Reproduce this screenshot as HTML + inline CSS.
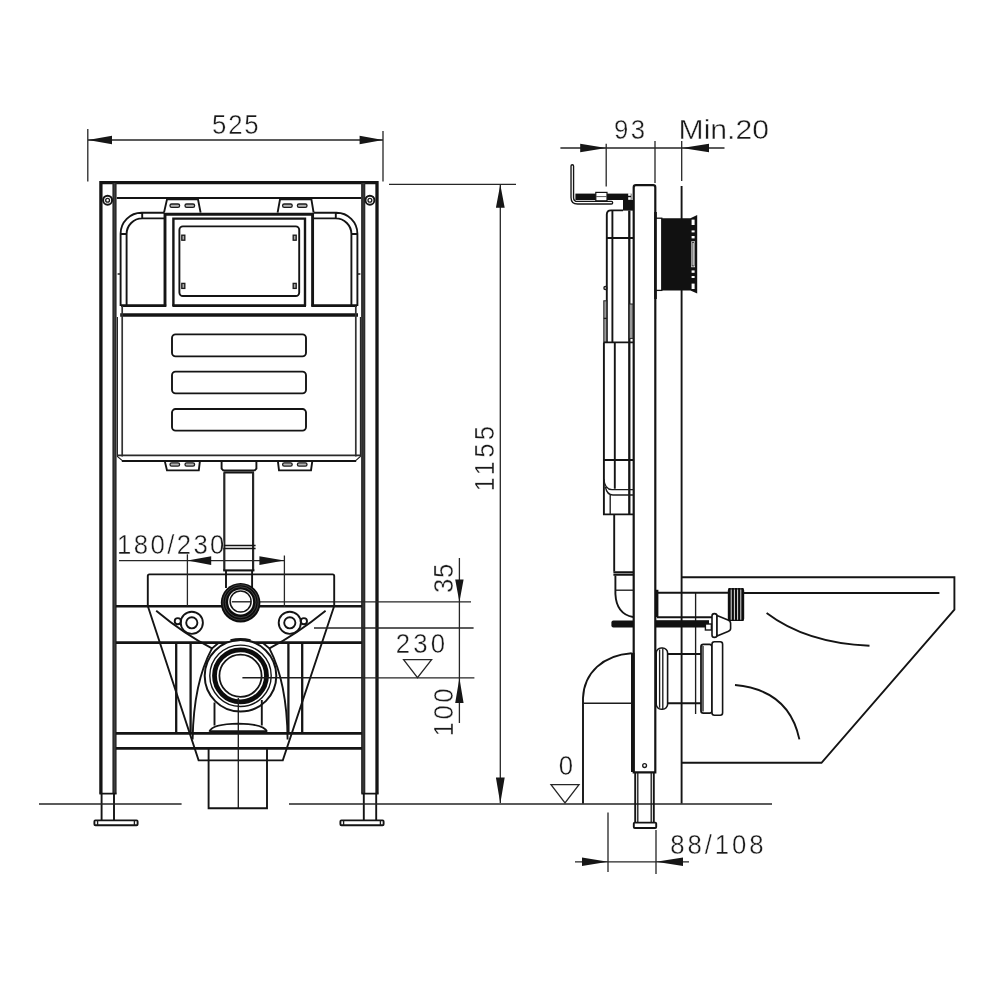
<!DOCTYPE html>
<html lang="en">
<head>
<meta charset="utf-8">
<title>Concealed cistern frame – dimensions</title>
<style>
html,body{margin:0;padding:0;background:#fff;}
body{width:1000px;height:1000px;overflow:hidden;font-family:"Liberation Sans",sans-serif;}
svg{display:block;will-change:transform}
.k{fill:none;stroke:#141414;stroke-width:2.5}
.m{fill:none;stroke:#141414;stroke-width:1.9}
.t{fill:none;stroke:#1c1c1c;stroke-width:1.35}
.d{fill:none;stroke:#262626;stroke-width:1.3}
.w{fill:#fff;stroke:#141414;stroke-width:1.6}
.b{fill:#111;stroke:none}
.a{fill:#161616;stroke:none}
text{font-family:"Liberation Sans",sans-serif;font-size:28px;fill:#1a1a1a;stroke:#fff;stroke-width:.4px}
</style>
</head>
<body>
<svg width="1000" height="1000" viewBox="0 0 1000 1000">
<rect width="1000" height="1000" fill="#fff"/>

<!-- ================= FRONT VIEW ================= -->
<g id="front">
<!-- frame -->
<path class="k" style="stroke-width:3.3" d="M100.9,793.6 V182.6 H377 V793.6"/>
<path d="M114.5,183 V793.6 M363.2,183 V793.6" fill="none" stroke="#2a2a2a" stroke-width="4.2"/>
<path d="M114.5,183 V793.6 M363.2,183 V793.6" fill="none" stroke="#484848" stroke-width=".7"/>
<path class="m" d="M116.8,198 H361.2"/>
<circle class="m" cx="107.6" cy="200.2" r="4.5" style="stroke-width:2"/><circle class="t" cx="107.6" cy="200.2" r="1.9"/>
<circle class="m" cx="369.9" cy="200.2" r="4.5" style="stroke-width:2"/><circle class="t" cx="369.9" cy="200.2" r="1.9"/>
<!-- top tabs -->
<path class="m" d="M164,212.6 L167,199.4 H198 L200.6,212.6"/>
<path class="m" d="M277.6,212.6 L280,199.4 H311.4 L313.6,212.6"/>
<g class="t" style="stroke-width:1.3;fill:#b5b5b5"><rect x="170" y="204" width="9.6" height="3.3" rx="1.6"/><rect x="185" y="204" width="9.6" height="3.3" rx="1.6"/>
<rect x="282.6" y="204" width="9.6" height="3.3" rx="1.6"/><rect x="297.4" y="204" width="9.6" height="3.3" rx="1.6"/></g>
<!-- bent pipes -->
<path class="m" d="M120.6,306 V233.8 A21,21 0 0 1 141.6,212.8 H164 M126.6,306 V234 A15.6,15.6 0 0 1 142.2,218.4 H164 M142.2,212.8 V218.4 M120.6,234 H126.6"/>
<path class="m" d="M357.4,306 V233.8 A21,21 0 0 0 336.4,212.8 H314 M351.4,306 V234 A15.6,15.6 0 0 0 335.8,218.4 H314 M335.8,212.8 V218.4 M357.4,234 H351.4"/>
<path class="t" d="M117.6,274 H120.6 M360.4,274 H357.4"/>
<!-- central box -->
<path class="k" style="stroke-width:2.9" d="M165,306.6 V214.2 H312.6 V306.6"/>
<path class="m" style="stroke-width:2.4" d="M173.4,306 V218.6 H305 V306"/>
<rect class="m" x="179.4" y="226.4" width="119.8" height="69.6" rx="3.5"/>
<g class="t" style="fill:#aaa"><rect x="181.8" y="235.2" width="3" height="5"/><rect x="181.8" y="283.4" width="3" height="5"/><rect x="293.2" y="235.2" width="3" height="5"/><rect x="293.2" y="283.4" width="3" height="5"/></g>
<path class="k" style="stroke-width:2.7" d="M121,305.6 H166.2 M172.4,305.6 H306 M311.4,305.6 H357"/>
<!-- tank -->
<path class="k" style="stroke-width:3.6" d="M120.2,315 H358"/>
<path class="m" style="stroke:#333;stroke-width:1.7" d="M122.2,306 V456.6 M355.8,306 V456.6"/><path class="t" style="stroke-width:1.1" d="M117.4,317 V456.4 L122,460.4 M360.4,317 V456.4 L356,460.4"/>
<path class="m" style="stroke:#2a2a2a;stroke-width:1.7" d="M118,455.4 H360"/>
<path class="m" style="stroke-width:2.1" d="M121.8,461 H356.2"/>
<g class="m"><rect x="172" y="334.4" width="134" height="22" rx="3.6"/><rect x="172" y="371.6" width="134" height="21.8" rx="3.6"/><rect x="172" y="409" width="134" height="21.6" rx="3.6"/></g>
<!-- bottom tabs -->
<path class="m" d="M164.6,460.4 L167,470.4 H198.8 L200,460.4 M277.8,460.4 L279,470.4 H311 L312.4,460.4"/>
<g class="t" style="stroke-width:1.3;fill:#b5b5b5"><rect x="170" y="462.8" width="9.6" height="3.3" rx="1.6"/><rect x="185" y="462.8" width="9.6" height="3.3" rx="1.6"/>
<rect x="282.6" y="462.8" width="9.6" height="3.3" rx="1.6"/><rect x="297.4" y="462.8" width="9.6" height="3.3" rx="1.6"/></g>
<!-- flush pipe -->
<path class="m" d="M221.6,460.4 V468.6 L223.2,470.4 H254.8 L256.4,468.6 V460.4 M223.6,472.5 H254"/>
<path class="m" style="stroke:#262626;stroke-width:2.2" d="M224.3,472.4 V570.4 M253.1,472.4 V570.4"/>
<path class="m" style="stroke-width:1.7" d="M222.4,545.5 H255.6 M222.4,548.5 H255.6"/>
<path class="m" style="stroke-width:2.1" d="M223.2,570.4 H254.4"/>
<path class="m" d="M226,570.4 V588 M252.1,570.4 V588"/>
<!-- bowl outline behind -->
<path class="m" d="M147.8,606 V576 Q147.8,574.4 149.4,574.4 H332.6 Q334.2,574.4 334.2,576 V606"/>
<path class="m" d="M147.8,606 L198.6,760.4 H282.8 L334.2,606"/>
<!-- crossbars -->
<path class="k" style="stroke-width:2.6" d="M116,606.2 H362 M116,642.6 H362 M116,733.4 H362 M116,748.4 H362"/>
<!-- flush inlet -->
<path class="t" d="M232,601.8 H362"/>
<circle cx="240.6" cy="602.8" r="19.8" fill="#0c0c0c"/>
<circle cx="240.6" cy="602.4" r="17.6" fill="none" stroke="#777" stroke-width=".5"/>
<circle cx="240.6" cy="602.2" r="15.4" fill="none" stroke="#777" stroke-width=".5"/>
<circle cx="240.6" cy="601.9" r="12.5" fill="#fff"/>
<circle class="m" cx="240.6" cy="601.5" r="10.5" style="stroke-width:1.5"/>
<path class="t" d="M231.8,601.8 H251"/>
<!-- bolts -->
<circle class="m" cx="191.8" cy="622.8" r="11.1"/><circle class="m" cx="191.8" cy="622.8" r="5.6"/><circle class="m" cx="177.8" cy="621.2" r="3.1" fill="#fff"/>
<circle class="m" cx="289.8" cy="622.8" r="11.1"/><circle class="m" cx="289.8" cy="622.8" r="5.6"/><circle class="m" cx="303.9" cy="621.2" r="3.1" fill="#fff"/>
<!-- inner diagonals and trap outline -->
<path class="m" d="M156.2,610.8 Q184,634 212,648.4 L218.4,643 M325.6,610.8 Q297,634 269.4,648.4 L263,643"/>
<path class="m" d="M212,648.4 C203,665 193.4,694 192.6,739.4 M269.4,648.4 C278,665 287.2,694 287.6,739.4"/>
<path class="k" style="stroke-width:2.3" d="M176.2,642.6 V733.4 M190.6,642.6 V733.4 M288.4,642.6 V733.4 M302.2,642.6 V733.4"/>
<!-- waste outlet -->
<circle cx="240.5" cy="675.8" r="35.8" fill="#fff" stroke="#141414" stroke-width="2"/>
<circle class="m" cx="240.5" cy="675.8" r="30.7" style="stroke-width:1.4"/>
<circle cx="240.5" cy="675.8" r="26" fill="none" stroke="#0c0c0c" stroke-width="4.8"/>
<circle class="m" cx="240.5" cy="675.8" r="21.1" style="stroke-width:1.8"/>
<path class="k" style="stroke-width:3" d="M230.6,640.6 Q240.5,638.2 250.4,640.6"/>
<path class="m" d="M214.5,702.6 V725.4 M261.8,700 V725.4"/>
<path class="m" d="M209.4,731.6 Q212,724 238.4,723.6 Q264,724 267,731.6"/>
<path class="k" d="M209.4,731.4 H267"/>
<path class="t" d="M238.3,698 V808"/>
<path class="t" d="M242.4,677.7 H362"/>
<!-- drain box -->
<path class="m" d="M208.6,748.4 V808.2 H267 V748.4"/>
<!-- legs / feet -->
<path class="m" d="M99.4,793.6 H116.6 M361.4,793.6 H378.6"/>
<path class="m" d="M101.6,793.6 V820.4 M114,793.6 V820.4 M363.8,793.6 V820.4 M376.2,793.6 V820.4"/>
<rect class="m" x="94.4" y="820.4" width="43.2" height="4.8" rx="1"/>
<rect class="m" x="340.4" y="820.4" width="43.2" height="4.8" rx="1"/>
<path class="t" d="M97.6,820.4 V825.2 M134.4,820.4 V825.2 M343.6,820.4 V825.2 M380.4,820.4 V825.2"/>


</g>

<!-- ================= DIMENSIONS (front) ================= -->
<g id="dims-front">
<!-- floor line -->
<path class="d" style="stroke-width:1.4" d="M39,804 H181.6 M289,804 H772"/>
<!-- 525 -->
<path class="d" d="M87.8,129 V181.4 M383,131 V181.4 M88,140 H383"/>
<path class="a" d="M88,140 L112,135.8 V144.2 Z M383,140 L359.6,135.8 V144.2 Z"/>
<text transform="translate(212,134.4) scale(0.92,1)" textLength="50.7" lengthAdjust="spacing">525</text>
<!-- 1155 -->
<path class="d" d="M389,184.4 H516 M500.3,184.4 V803"/>
<path class="a" d="M500.3,184.4 L495.9,207.8 H504.7 Z M500.3,803.4 L495.9,777.4 H504.7 Z"/>
<text transform="translate(494,491.4) rotate(-90) scale(0.92,1)" textLength="71.3" lengthAdjust="spacing">1155</text>
<!-- 35 / 100 -->
<path class="d" d="M362,601.8 H471 M314,628 H473.6 M362,677.8 H474.4 M459.4,558 V723"/>
<path class="a" d="M459.4,602 L455.2,579.6 H463.6 Z M459.4,678 L455.2,703 H463.6 Z"/>
<text transform="translate(453,593) rotate(-90) scale(0.92,1)" textLength="32.0" lengthAdjust="spacing">35</text>
<text transform="translate(453,736.4) rotate(-90) scale(0.92,1)" textLength="52.2" lengthAdjust="spacing">100</text>
<!-- 230 level -->
<text transform="translate(395.8,653) scale(0.92,1)" textLength="53.7" lengthAdjust="spacing">230</text>
<path class="d" d="M403.6,659.6 H431.6 L417.5,677.6 Z"/>
<!-- 180/230 -->
<path class="d" d="M119,560.6 H284 M187.4,554 V606 M284.4,555.6 V607"/>
<path class="a" d="M187.4,560.6 L211.2,556.2 V565 Z M284.2,560.6 L259.4,556.2 V565 Z"/>
<text transform="translate(117,553.6) scale(0.92,1)" textLength="116.8" lengthAdjust="spacing">180/230</text>

</g>

<!-- ================= SIDE VIEW ================= -->
<g id="side">
<!-- wall line -->
<path class="m" d="M681.6,186 V803.6"/>
<!-- bowl -->
<path class="m" d="M681.6,577.2 H954.4 V609.6 L821.5,762.8 H681.6"/>
<path class="m" d="M743.4,593 H939.4"/>
<path class="m" d="M766.6,613 Q806,643 869.5,645.8"/>
<path class="m" d="M735,685 Q789,690 799.4,739.4"/>
<!-- frame profile -->
<path class="k" style="stroke-width:2.2" d="M633.7,772.4 V187.4 Q633.7,185.2 635.9,185.2 H653.1 Q655.3,185.2 655.3,187.4 V772.4 Z"/>
<path class="k" style="stroke-width:3.6" d="M632.8,652.8 V772"/>
<circle class="t" cx="644.6" cy="765.6" r="1.9"/>
<!-- foot -->
<path class="m" d="M635.2,773 V822.4 M653.8,773 V822.4"/>
<path class="t" d="M637.8,773 V822.4 M651.2,773 V822.4"/>
<rect class="m" x="633.8" y="822.6" width="22.4" height="5.4" rx="1"/>
<!-- wall hook -->
<path d="M572.3,166 V197.4 Q572.3,202.7 577.6,202.7 H611.4" fill="none" stroke="#141414" stroke-width="3.9" stroke-linecap="round"/>
<path d="M572.3,166 V197.4 Q572.3,202.7 577.6,202.7 H611.4" fill="none" stroke="#fff" stroke-width="1.2" stroke-linecap="round"/>
<rect class="b" x="575.4" y="193.6" width="56" height="6.4"/>
<rect class="w" x="595.8" y="192.4" width="11.2" height="8.4" style="stroke-width:1.2"/>
<path d="M596,196.6 H607" stroke="#555" stroke-width="1" fill="none"/>
<rect x="628.2" y="193.2" width="2.6" height="2.6" fill="#fff"/><rect x="628.2" y="197.2" width="2.6" height="2.6" fill="#fff"/>
<rect class="b" x="623" y="200" width="10.4" height="10.6"/>
<!-- cistern profile -->
<path class="m" d="M623,210.4 H611 Q606.8,210.4 606.8,214.6 V342.4"/>
<path class="m" d="M612.4,210.4 V342.4"/><path class="m" style="stroke-width:2.3" d="M629.3,210.4 V514.4"/>
<path class="k" style="stroke-width:2" d="M606.8,238 H633.6"/>
<circle class="t" cx="605.4" cy="288" r="1.5"/>
<rect x="603.8" y="300.8" width="3" height="41.6" fill="#999" stroke="#222" stroke-width="1"/>
<path class="t" d="M603.8,318.4 H606.8"/>
<rect x="629.2" y="304" width="3.8" height="34.4" fill="#999" stroke="#222" stroke-width="1"/>
<path class="m" d="M603.8,342.4 H633.6 M603.9,342.4 V514.4 H633.6 M614.8,342.4 V488.8 M603.9,460 H633.6"/>
<path class="t" d="M603.9,479 Q604.6,489.6 612,489.6 H633.6 M605.4,487 Q607,495 613,495 H633.6 M610.2,495 V514.4"/>
<!-- down pipe + elbow -->
<path class="m" d="M614.2,514.4 V571.6 M615.4,575.4 V594 Q616.4,614 633,617"/>
<path class="m" style="stroke-width:1.9" d="M613.4,572.2 H633.6 M613.4,574.8 H633.6"/>
<path class="t" d="M615.4,590.2 H633.6"/>
<!-- threaded rod -->
<path class="b" d="M633.4,620.4 H613.4 Q611.4,620.4 611.4,622.4 V625.6 Q611.4,627.6 613.4,627.6 H633.4 Z"/>
<path class="t" d="M695.6,592.8 V714"/>
<rect class="b" x="655.4" y="620.2" width="53.6" height="7.3"/>
<path class="m" d="M657,617.2 H712"/>
<rect class="b" x="655" y="589.8" width="3.4" height="27.4"/>
<path class="m" d="M657,592.8 H728.4 M743.4,593 H760"/>
<!-- nut + thread -->
<rect class="w" x="705.4" y="624" width="6" height="6" style="stroke-width:1.4"/>
<path class="w" d="M714.4,613.6 Q712,613.6 712,616 V635 Q712,637.4 714.4,637.4 Q717,637.4 717,635 V616 Q717,613.6 714.4,613.6 Z"/>
<path class="w" d="M717,615.4 L728,620 Q730.6,621 730.6,623.4 V628.6 Q730.6,630.6 728,631.6 L717,636 Z"/>
<rect x="728.4" y="588.8" width="15.2" height="31.6" rx="1.6" fill="#ddd" stroke="#141414" stroke-width="1.2"/>
<path d="M729.6,588 V621 M732.8,588 V621 M736,588 V621 M739.2,588 V621 M742.4,588 V621" stroke="#0c0c0c" stroke-width="2.2" fill="none"/>
<!-- outlet connector -->
<rect class="w" x="656.2" y="648" width="11.4" height="61.2" rx="5"/>
<path class="t" d="M659.6,649.4 V707.8 M662.8,648.2 V709"/>
<path class="m" d="M667.6,654 H701 M667.6,703.2 H701"/>
<rect class="w" x="701" y="644.4" width="11" height="68.8" rx="2.4" style="stroke-width:1.8"/>
<rect class="w" x="712" y="641.8" width="10.6" height="73.4" rx="2.4"/>
<path class="t" d="M703,646 V711.6"/>
<!-- waste elbow -->
<path class="m" d="M631.6,653.2 C603,655 584,673 583,698 V803.6"/>
<path class="t" d="M583,703.2 H631.6"/>
<!-- flush plate / black block -->
<rect class="w" x="655.4" y="218.2" width="6.4" height="72.2" style="stroke-width:1.3"/>
<path class="k" style="stroke-width:2.7" d="M655.5,212 V299"/>
<path class="b" d="M661.6,218.2 H690.4 L697.2,215 V293.6 L690.4,290.6 H661.6 Z"/>
<g fill="#fff"><rect x="691.6" y="219.6" width="3" height="5.4"/><rect x="691.6" y="230.4" width="3" height="2"/><rect x="691.6" y="236" width="3" height="2.4"/>
<rect x="691.2" y="241.4" width="3.8" height="25.8"/>
<rect x="691.6" y="270.4" width="3" height="2.4"/><rect x="691.6" y="276" width="3" height="2"/><rect x="691.6" y="283.6" width="3" height="5.4"/></g>
<rect x="692.1" y="242.6" width="2" height="23.4" fill="none" stroke="#111" stroke-width=".8"/>

</g>

<!-- ================= DIMENSIONS (side) ================= -->
<g id="dims-side">
<!-- 93 / Min.20 -->
<path class="d" d="M560.4,148 H724.5 M606.2,143.8 V186.6 M655,141 V183 M681.7,141 V181"/>
<path class="a" d="M606.2,148 L580.2,143.7 V152.3 Z M682,148 L709,143.7 V152.3 Z"/>
<text transform="translate(614,139.4) scale(0.92,1)" textLength="33.7" lengthAdjust="spacing">93</text>
<text x="678.6" y="139.4" textLength="90.4" lengthAdjust="spacingAndGlyphs">Min.20</text>
<!-- 0 level -->
<text transform="translate(558.8,775) scale(0.92,1)" textLength="17.4" lengthAdjust="spacing">0</text>
<path class="d" d="M551,784.6 H579 L565,803 Z"/>
<!-- 88/108 -->
<path class="d" d="M575,861.8 H689 M608,812.6 V872 M656,830 V874"/>
<path class="a" d="M608,861.8 L582,857.6 V866 Z M656,861.8 L683,857.6 V866 Z"/>
<text transform="translate(670.2,853.5) scale(0.92,1)" textLength="101.5" lengthAdjust="spacing">88/108</text>

</g>
</svg>
</body>
</html>
